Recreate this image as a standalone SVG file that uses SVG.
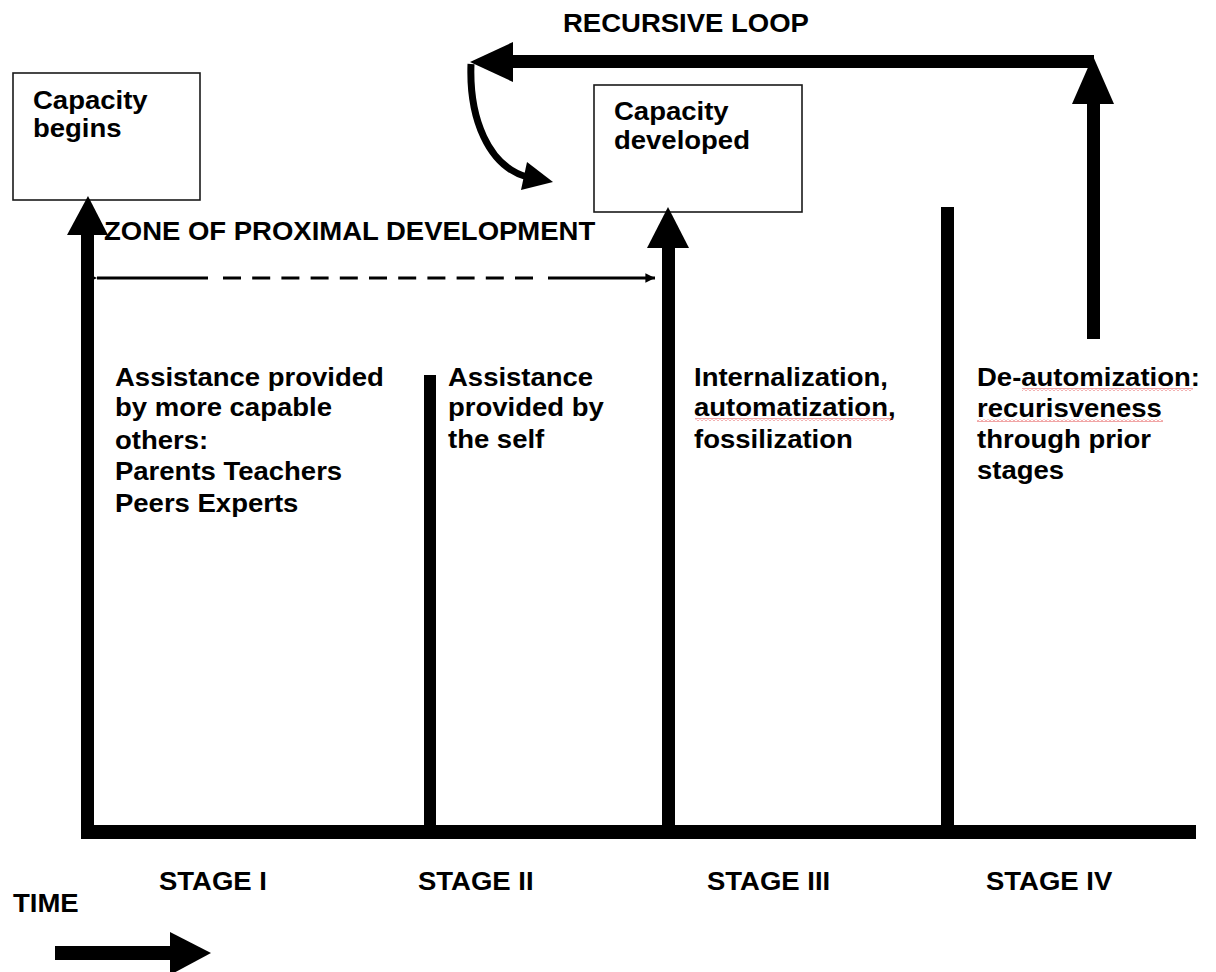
<svg xmlns="http://www.w3.org/2000/svg" width="1216" height="972" viewBox="0 0 1216 972">
<style>
.t{font-family:"Liberation Sans",Arial,Helvetica,sans-serif;font-weight:bold;font-size:25px;fill:#000}
.box{fill:#fff;stroke:#1a1a1a;stroke-width:1.6}
.bar{fill:#000}
.thin{stroke:#000;stroke-width:3;fill:none}
.sq{fill:url(#squig)}
</style>
<defs>
<pattern id="squig" width="4" height="3" patternUnits="userSpaceOnUse">
<path d="M0 2.5 L2 0.5 L4 2.5" fill="none" stroke="#e03a3a" stroke-width="0.9"/>
</pattern>
<marker id="headR" viewBox="0 0 10 10" refX="10" refY="5" markerWidth="4.5" markerHeight="3.2" markerUnits="strokeWidth" orient="auto">
<path d="M0 0 L10 5 L0 10 Z" fill="#000"/>
</marker>
<marker id="headL" viewBox="0 0 10 10" refX="0" refY="5" markerWidth="4" markerHeight="3.2" markerUnits="strokeWidth" orient="auto">
<path d="M10 0 L0 5 L10 10 Z" fill="#000"/>
</marker>
</defs>
<rect width="1216" height="972" fill="#fff"/>

<g id="title-recursive-loop">
<text class="t" transform="translate(563 32) scale(1.1 1)">RECURSIVE LOOP</text>
</g>

<g id="node-capacity-begins">
<rect class="box" x="13" y="73" width="187" height="127"/>
<text class="t" transform="translate(33 109) scale(1.1 1)">Capacity</text>
<text class="t" transform="translate(33 137) scale(1.1 1)">begins</text>
</g>

<g id="node-capacity-developed">
<rect class="box" x="594" y="85" width="208" height="127"/>
<text class="t" transform="translate(614 120) scale(1.1 1)">Capacity</text>
<text class="t" transform="translate(614 149) scale(1.1 1)">developed</text>
</g>

<g id="label-zpd">
<text class="t" transform="translate(104 240) scale(1.1 1)">ZONE OF PROXIMAL DEVELOPMENT</text>
</g>

<g id="label-stage1-text">
<text class="t" transform="translate(115 386) scale(1.1 1)">Assistance provided</text>
<text class="t" transform="translate(115 416) scale(1.1 1)">by more capable</text>
<text class="t" transform="translate(115 449) scale(1.1 1)">others:</text>
<text class="t" transform="translate(115 480) scale(1.1 1)">Parents Teachers</text>
<text class="t" transform="translate(115 512) scale(1.1 1)">Peers Experts</text>
</g>

<g id="label-stage2-text">
<text class="t" transform="translate(448 386) scale(1.1 1)">Assistance</text>
<text class="t" transform="translate(448 416) scale(1.1 1)">provided by</text>
<text class="t" transform="translate(448 448) scale(1.1 1)">the self</text>
</g>

<g id="label-stage3-text">
<text class="t" transform="translate(694 386) scale(1.1 1)">Internalization,</text>
<text class="t" transform="translate(694 416) scale(1.1 1)">automatization,</text>
<text class="t" transform="translate(694 448) scale(1.1 1)">fossilization</text>
<rect class="sq" x="695" y="418" width="198" height="3"/>
</g>

<g id="label-stage4-text">
<text class="t" transform="translate(977 386) scale(1.1 1)">De-automization:</text>
<text class="t" transform="translate(977 417) scale(1.1 1)">recurisveness</text>
<text class="t" transform="translate(977 448) scale(1.1 1)">through prior</text>
<text class="t" transform="translate(977 479) scale(1.1 1)">stages</text>
<rect class="sq" x="1022" y="388" width="171" height="3"/>
<rect class="sq" x="977" y="419" width="186" height="3"/>
</g>

<g id="stage-labels">
<text class="t" transform="translate(159 890) scale(1.1 1)">STAGE I</text>
<text class="t" transform="translate(418 890) scale(1.1 1)">STAGE II</text>
<text class="t" transform="translate(707 890) scale(1.1 1)">STAGE III</text>
<text class="t" transform="translate(986 890) scale(1.1 1)">STAGE IV</text>
</g>

<g id="label-time">
<text class="t" transform="translate(13 912) scale(1.1 1)">TIME</text>
</g>

<g id="connectors">
<!-- time axis -->
<rect class="bar" x="81" y="825" width="1115" height="14"/>
<!-- stage I arrow to capacity begins -->
<rect class="bar" x="81" y="233" width="13" height="600"/>
<polygon class="bar" points="88,196 67,235 108,235"/>
<!-- stage dividers -->
<rect class="bar" x="424" y="375" width="12" height="455"/>
<rect class="bar" x="941" y="207" width="13" height="623"/>
<!-- stage III arrow to capacity developed -->
<rect class="bar" x="662" y="246" width="13" height="584"/>
<polygon class="bar" points="668,207 647,248 689,248"/>
<!-- recursive loop -->
<rect class="bar" x="1087" y="102" width="13" height="237"/>
<polygon class="bar" points="1093,56 1072,104 1114,104"/>
<rect class="bar" x="510" y="55" width="584" height="13"/>
<polygon class="bar" points="470,62 513,42 513,82"/>
<path d="M471 64 C 469 118, 488 166, 527 177" fill="none" stroke="#000" stroke-width="7"/>
<polygon class="bar" points="553,182 527,162 521,190"/>
<!-- zone of proximal development -->
<path class="thin" d="M208 278 H97" marker-end="url(#headL)"/>
<path class="thin" d="M223 278 H535" stroke-dasharray="18 11.2"/>
<path class="thin" d="M548 278 H655" marker-end="url(#headR)"/>
<!-- time arrow -->
<rect class="bar" x="55" y="946" width="117" height="14"/>
<polygon class="bar" points="170,932 211,953 170,975"/>
</g>
</svg>
